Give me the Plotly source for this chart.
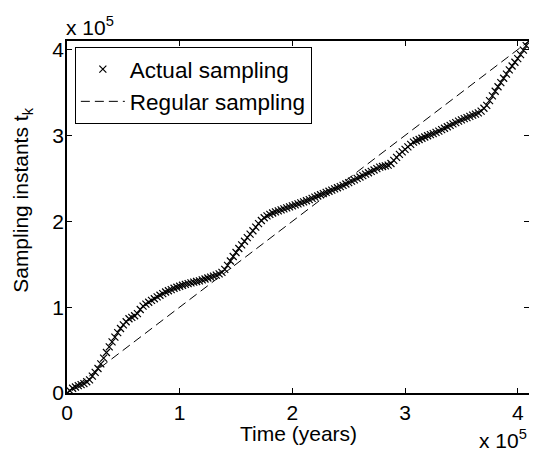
import plotly.graph_objects as go

# Regular time grid (units of 1e5 years)
time_1e5 = [
    0.000, 0.025, 0.050, 0.075, 0.100, 0.125, 0.150, 0.175, 0.200, 0.225,
    0.250, 0.275, 0.300, 0.325, 0.350, 0.375, 0.400, 0.425, 0.450, 0.475,
    0.500, 0.525, 0.550, 0.575, 0.600, 0.625, 0.650, 0.675, 0.700, 0.725,
    0.750, 0.775, 0.800, 0.825, 0.850, 0.875, 0.900, 0.925, 0.950, 0.975,
    1.000, 1.025, 1.050, 1.075, 1.100, 1.125, 1.150, 1.175, 1.200, 1.225,
    1.250, 1.275, 1.300, 1.325, 1.350, 1.375, 1.400, 1.425, 1.450, 1.475,
    1.500, 1.525, 1.550, 1.575, 1.600, 1.625, 1.650, 1.675, 1.700, 1.725,
    1.750, 1.775, 1.800, 1.825, 1.850, 1.875, 1.900, 1.925, 1.950, 1.975,
    2.000, 2.025, 2.050, 2.075, 2.100, 2.125, 2.150, 2.175, 2.200, 2.225,
    2.250, 2.275, 2.300, 2.325, 2.350, 2.375, 2.400, 2.425, 2.450, 2.475,
    2.500, 2.525, 2.550, 2.575, 2.600, 2.625, 2.650, 2.675, 2.700, 2.725,
    2.750, 2.775, 2.800, 2.825, 2.850, 2.875, 2.900, 2.925, 2.950, 2.975,
    3.000, 3.025, 3.050, 3.075, 3.100, 3.125, 3.150, 3.175, 3.200, 3.225,
    3.250, 3.275, 3.300, 3.325, 3.350, 3.375, 3.400, 3.425, 3.450, 3.475,
    3.500, 3.525, 3.550, 3.575, 3.600, 3.625, 3.650, 3.675, 3.700, 3.725,
    3.750, 3.775, 3.800, 3.825, 3.850, 3.875, 3.900, 3.925, 3.950, 3.975,
    4.000, 4.025, 4.050, 4.075, 4.100,
]

# Actual sampling instants t_k (units of 1e5 years)
tk_1e5 = [
    0.000, 0.028, 0.055, 0.070, 0.085, 0.097, 0.110, 0.131, 0.153, 0.197,
    0.240, 0.285, 0.340, 0.407, 0.472, 0.538, 0.595, 0.650, 0.704, 0.751,
    0.793, 0.830, 0.865, 0.881, 0.900, 0.925, 0.973, 1.012, 1.035, 1.057,
    1.078, 1.098, 1.119, 1.139, 1.157, 1.176, 1.191, 1.205, 1.220, 1.232,
    1.243, 1.255, 1.265, 1.274, 1.283, 1.291, 1.299, 1.306, 1.317, 1.328,
    1.339, 1.350, 1.361, 1.373, 1.388, 1.405, 1.440, 1.486, 1.538, 1.590,
    1.636, 1.683, 1.726, 1.768, 1.810, 1.850, 1.890, 1.932, 1.973, 2.009,
    2.041, 2.063, 2.081, 2.097, 2.109, 2.121, 2.133, 2.145, 2.157, 2.168,
    2.180, 2.191, 2.203, 2.214, 2.226, 2.239, 2.253, 2.267, 2.281, 2.295,
    2.309, 2.322, 2.336, 2.350, 2.363, 2.377, 2.391, 2.404, 2.418, 2.434,
    2.450, 2.467, 2.483, 2.500, 2.516, 2.532, 2.549, 2.565, 2.581, 2.597,
    2.613, 2.630, 2.638, 2.646, 2.654, 2.673, 2.709, 2.744, 2.780, 2.809,
    2.838, 2.867, 2.896, 2.923, 2.938, 2.953, 2.967, 2.982, 2.996, 3.009,
    3.022, 3.035, 3.051, 3.068, 3.084, 3.101, 3.117, 3.134, 3.150, 3.166,
    3.181, 3.195, 3.208, 3.222, 3.236, 3.249, 3.263, 3.284, 3.317, 3.351,
    3.406, 3.460, 3.515, 3.567, 3.616, 3.666, 3.715, 3.764, 3.809, 3.852,
    3.895, 3.941, 3.994, 4.047, 4.100,
]

regular_x = [0.0, 4.1]
regular_y = [0.0, 4.1]

tick_vals = [0, 1, 2, 3, 4]
tick_text = ["0", "1", "2", "3", "4"]

FONT = "Liberation Sans, Arial, Helvetica, sans-serif"
FS = 21
LFS = 22.5

fig = go.Figure()
fig.add_trace(go.Scatter(
    x=time_1e5, y=tk_1e5, mode="markers", name="Actual sampling",
    marker=dict(symbol="x-thin", size=7, color="black",
                line=dict(width=1.2, color="black")),
))
fig.add_trace(go.Scatter(
    x=regular_x, y=regular_y, mode="lines", name="Regular sampling",
    line=dict(color="black", width=1, dash="9px,5px"),
))

axis_common = dict(
    showgrid=False, zeroline=False, showline=True, linecolor="black",
    linewidth=1.5, mirror="ticks", ticks="inside", ticklen=5,
    tickcolor="black", tickwidth=1, tickvals=tick_vals, ticktext=tick_text,
    tickfont=dict(family=FONT, size=FS, color="black"),
    automargin=False,
)

# page has an 8px body margin: figure sized to fit in the 537x452 window
fig.update_layout(
    width=529, height=444,
    margin=dict(l=59, r=8, t=33, b=59),
    paper_bgcolor="white", plot_bgcolor="white",
    font=dict(family=FONT, size=FS, color="black"),
    xaxis=dict(range=[0, 4.1], ticklabelstandoff=0, **axis_common),
    yaxis=dict(range=[0, 4.1], ticklabelstandoff=-3, **axis_common),
    showlegend=True,
    legend=dict(
        x=0.017, y=0.983, xanchor="left", yanchor="top",
        bgcolor="white", bordercolor="black", borderwidth=1,
        font=dict(family=FONT, size=LFS, color="black"),
        itemwidth=44, tracegroupgap=0,
    ),
    annotations=[
        dict(text="x 10<sup>5</sup>", xref="paper", yref="paper",
             x=0.0, y=1.0, xanchor="left", yanchor="bottom", xshift=-3,
             showarrow=False, font=dict(family=FONT, size=FS)),
        dict(text="x 10<sup>5</sup>", xref="paper", yref="paper",
             x=1.0, y=0.0, xanchor="right", yanchor="top", yshift=-31,
             showarrow=False, font=dict(family=FONT, size=FS)),
        dict(text="Time (years)", xref="paper", yref="paper",
             x=0.5, y=0.0, xanchor="center", yanchor="middle", yshift=-40,
             showarrow=False, font=dict(family=FONT, size=FS)),
        dict(text="Sampling instants t<sub>k</sub>", xref="paper", yref="paper",
             x=0.0, y=0.546, xanchor="center", yanchor="middle", xshift=-45,
             textangle=-90, showarrow=False, font=dict(family=FONT, size=FS)),
    ],
)

fig.write_html("out.html")
